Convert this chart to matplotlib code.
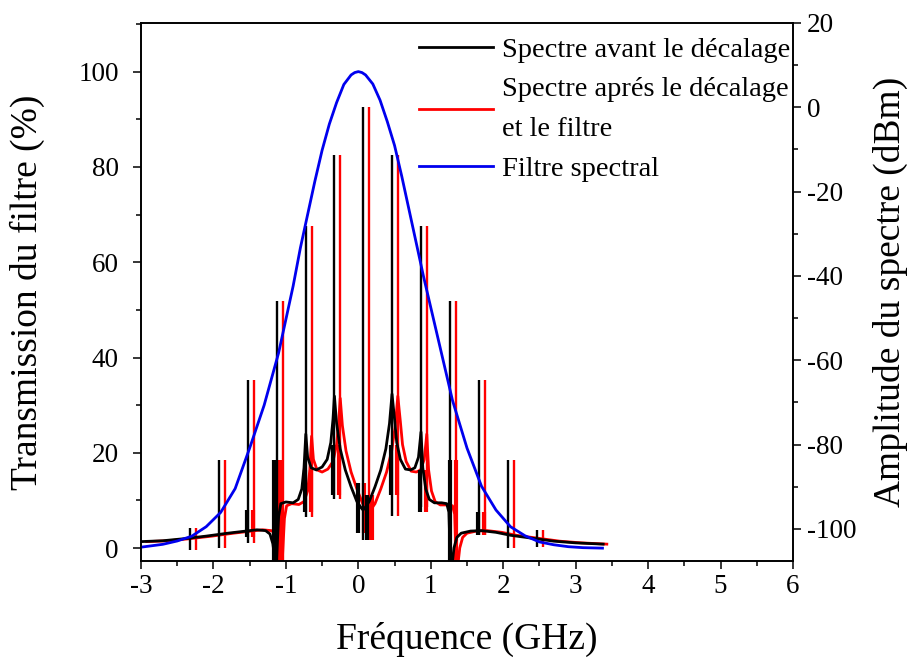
import matplotlib
matplotlib.use('Agg')
import matplotlib.pyplot as plt
from matplotlib import rcParams
from matplotlib.ticker import MultipleLocator

rcParams.update({'font.family': 'Liberation Serif'})
rcParams.update({'font.size': 19.5})
rcParams.update({'axes.linewidth': 1.2})
rcParams.update({'xtick.direction': 'out'})
rcParams.update({'ytick.direction': 'out'})
rcParams.update({'xtick.major.size': 6})
rcParams.update({'ytick.major.size': 6})
rcParams.update({'xtick.minor.size': 3.5})
rcParams.update({'ytick.minor.size': 3.5})
rcParams.update({'xtick.major.width': 1.1})
rcParams.update({'ytick.major.width': 1.1})
rcParams.update({'xtick.minor.width': 1.1})
rcParams.update({'ytick.minor.width': 1.1})
rcParams.update({'ytick.major.pad': 10})

# filtre spectral (%), axe de gauche
filtre_freq = [-3.0, -2.7, -2.5, -2.3, -2.1, -1.9, -1.7, -1.5, -1.3, -1.1, -0.9, -0.8, -0.7,
               -0.6, -0.5, -0.4, -0.3, -0.2, -0.1, -0.05, 0.0, 0.05, 0.1, 0.2, 0.3, 0.4, 0.5, 0.6,
               0.7, 0.8, 0.9, 1.1, 1.3, 1.5, 1.7, 1.9, 2.1, 2.3, 2.5, 2.7, 2.9, 3.1, 3.37]
filtre_trans = [0.2, 0.8, 1.5, 2.5, 4.5, 7.5, 12.5, 21, 30, 41, 55, 63, 70,
                77, 83.5, 89, 93.5, 97.3, 99.3, 99.8, 100, 99.8, 99.3, 97.4, 94, 89.5, 84.5, 78,
                71, 64, 57, 44, 31, 21, 13, 8, 4.5, 2.6, 1.3, 0.7, 0.3, 0.1, 0.0]

# spectre avant le decalage (dBm), axe de droite
avant_freq = [-3.00, -2.70, -2.40, -2.10, -1.80, -1.60, -1.40, -1.28, -1.22, -1.18,
              -1.15, -1.13, -1.10, -1.07, -1.00, -0.90, -0.83, -0.78, -0.75, -0.725,
              -0.70, -0.65, -0.58, -0.50, -0.43, -0.38, -0.35, -0.33, -0.30, -0.25,
              -0.18, -0.10, -0.02, 0.04, 0.065, 0.09, 0.15, 0.23, 0.31, 0.38,
              0.43, 0.465, 0.50, 0.53, 0.58, 0.65, 0.72, 0.78, 0.83, 0.865,
              0.89, 0.93, 0.98, 1.05, 1.15, 1.22, 1.25, 1.27, 1.30, 1.32,
              1.36, 1.42, 1.55, 1.70, 1.90, 2.10, 2.40, 2.70, 3.00, 3.38]
avant_dbm = [-103.0, -102.8, -102.3, -101.7, -101.0, -100.6, -100.2, -100.4, -101.2, -103.5,
             -107.6, -107.6, -97.0, -94.0, -93.6, -93.8, -93.0, -90.5, -85.5, -77.5,
             -83.0, -85.5, -86.0, -85.3, -83.5, -79.5, -74.0, -68.5, -75.0, -81.0,
             -86.0, -90.0, -93.5, -95.0, -95.5, -95.0, -93.5, -90.0, -86.0, -81.0,
             -75.0, -68.0, -74.0, -79.5, -83.5, -85.8, -86.0, -85.5, -83.0, -77.0,
             -85.5, -90.5, -93.0, -93.8, -93.8, -94.0, -96.0, -107.6, -107.6, -104.5,
             -102.0, -101.0, -100.5, -100.4, -100.8, -101.5, -102.2, -102.9, -103.3, -103.6]

# spectre apres le decalage et le filtre (dBm)
apres_freq = [-2.92, -2.62, -2.32, -2.02, -1.72, -1.52, -1.32, -1.20, -1.14, -1.10,
              -1.07, -1.05, -1.02, -0.99, -0.92, -0.82, -0.75, -0.70, -0.67, -0.645,
              -0.62, -0.57, -0.50, -0.42, -0.35, -0.30, -0.27, -0.25, -0.22, -0.17,
              -0.10, -0.02, 0.06, 0.12, 0.145, 0.17, 0.23, 0.31, 0.39, 0.46,
              0.51, 0.545, 0.58, 0.61, 0.66, 0.73, 0.80, 0.86, 0.91, 0.945,
              0.97, 1.01, 1.06, 1.13, 1.23, 1.30, 1.33, 1.35, 1.38, 1.40,
              1.44, 1.50, 1.63, 1.78, 1.98, 2.18, 2.48, 2.78, 3.08, 3.43]
apres_dbm = [-103.0, -102.8, -102.3, -101.7, -101.0, -100.6, -100.2, -100.4, -101.2, -103.5,
             -107.6, -107.6, -97.5, -94.5, -94.0, -94.2, -93.5, -91.0, -86.0, -78.0,
             -83.5, -86.0, -86.5, -85.8, -84.0, -80.0, -74.5, -69.0, -75.5, -81.5,
             -86.5, -90.5, -94.0, -95.5, -96.0, -95.5, -94.0, -90.5, -86.5, -81.5,
             -75.5, -68.5, -74.5, -80.0, -84.0, -86.3, -86.5, -86.0, -83.5, -77.5,
             -86.0, -91.0, -93.5, -94.3, -94.3, -94.5, -96.5, -107.6, -107.6, -104.5,
             -102.0, -101.0, -100.5, -100.4, -100.8, -101.5, -102.2, -102.9, -103.3, -103.6]

# raies du peigne
raie_avant_freq = [-2.32, -1.92, -1.52, -1.12, -0.725, -0.33, 0.065, 0.465, 0.865, 1.265, 1.665, 2.065, 2.465]
raie_apres_freq = [-2.24, -1.84, -1.44, -1.04, -0.645, -0.25, 0.145, 0.545, 0.945, 1.345, 1.745, 2.145, 2.545]
raie_haut = [-99.7, -83.6, -64.6, -46.0, -28.1, -11.2, 0.0, -11.3, -28.1, -46.0, -64.6, -83.6, -100.3]
raie_bas = [-104.9, -104.5, -103.3, -107.6, -97.1, -93.0, -102.6, -97.0, -94.7, -107.6, -101.4, -104.5, -104.2]

# paquets de raies secondaires (epais) pres de la base
paquet_avant_freq = [-1.54, -1.16, -0.74, -0.35, 0.0, 0.115, 0.45, 0.85, 1.26, 1.65]
paquet_apres_freq = [-1.46, -1.08, -0.66, -0.27, 0.08, 0.195, 0.53, 0.93, 1.35, 1.73]
paquet_haut = [-95.5, -83.6, -86.0, -80.0, -89.0, -92.0, -80.0, -86.0, -83.6, -96.0]
paquet_bas = [-101.9, -107.6, -96.0, -92.0, -100.9, -102.6, -92.0, -96.0, -107.6, -101.5]

freq_ticks = [-3, -2, -1, 0, 1, 2, 3, 4, 5, 6]
trans_ticks = [0, 20, 40, 60, 80, 100]
dbm_ticks = [-100, -80, -60, -40, -20, 0, 20]

fig = plt.figure(figsize=(9.1, 6.62), dpi=100)
ax = fig.add_axes([141 / 910, 1 - 561 / 662, (793 - 141) / 910, (561 - 23) / 662])
ax2 = ax.twinx()

ax2.plot(apres_freq, apres_dbm, color='#ff0000', linewidth=2.0)
ax2.vlines(raie_apres_freq, raie_bas, raie_haut, colors='#ff0000', linewidth=1.7)
ax2.vlines(paquet_apres_freq, paquet_bas, paquet_haut, colors='#ff0000', linewidth=3.0)
ax2.plot(avant_freq, avant_dbm, color='black', linewidth=2.0)
ax2.vlines(raie_avant_freq, raie_bas, raie_haut, colors='black', linewidth=1.7)
ax2.vlines(paquet_avant_freq, paquet_bas, paquet_haut, colors='black', linewidth=3.0)

l_bleu, = ax.plot(filtre_freq, filtre_trans, color='#0000ee', linewidth=2.0)

# le filtre par-dessus les spectres
ax.set_zorder(ax2.get_zorder() + 1)
ax.patch.set_visible(False)

ax.set_xlim(-3, 6)
ax.set_ylim(-2.7, 110.2)
ax2.set_ylim(-107.6, 20)

ax.set_xticks(freq_ticks)
ax.set_xticklabels([str(t) for t in freq_ticks])
ax.xaxis.set_minor_locator(MultipleLocator(0.5))
ax.set_yticks(trans_ticks)
ax.yaxis.set_minor_locator(MultipleLocator(10))
ax2.set_yticks(dbm_ticks)
ax2.set_yticklabels([str(t) for t in dbm_ticks])
ax2.yaxis.set_minor_locator(MultipleLocator(10))
ax.tick_params(which='both', top=False, right=False)
ax2.tick_params(which='both', top=False)
ax2.tick_params(axis='y', pad=4)

ax.set_xlabel('Fréquence (GHz)', fontsize=27, labelpad=16)
ax.set_ylabel('Transmission du filtre (%)', fontsize=27, labelpad=24)
ax2.set_ylabel('Amplitude du spectre (dBm)', fontsize=27, labelpad=12)

l_noir = plt.Line2D([], [], color='black', linewidth=2.0)
l_rouge = plt.Line2D([], [], color='#ff0000', linewidth=2.0)
leg = ax.legend([l_noir, l_rouge, l_bleu],
                ['Spectre avant le décalage', 'Spectre aprés le décalage\net le filtre', 'Filtre spectral'],
                loc='upper right', bbox_to_anchor=(1.017, 1.0), frameon=False, fontsize=20.5,
                handlelength=2.6, handletextpad=0.3, labelspacing=0.5, borderaxespad=0.1)
for t in leg.get_texts():
    t.set_linespacing(1.75)

fig.savefig('out.png', dpi=100)
